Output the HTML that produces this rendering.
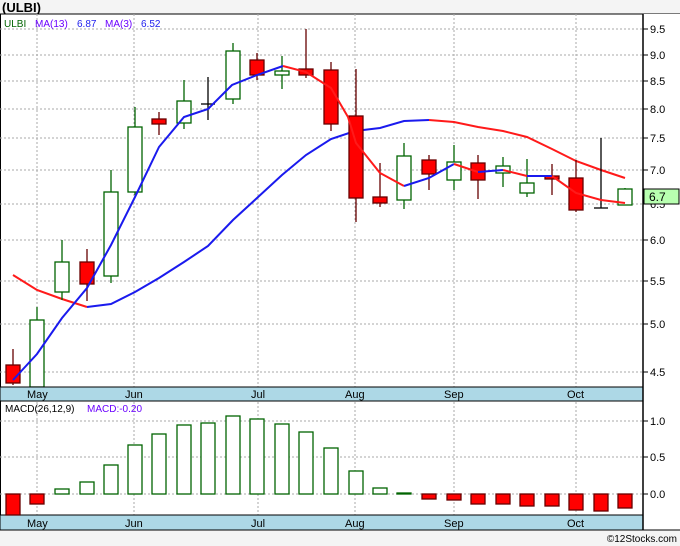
<!DOCTYPE html>
<html><head><meta charset="utf-8"><style>
body{margin:0;background:#f4f4f4;}
svg{display:block;font-family:"Liberation Sans","DejaVu Sans",sans-serif;}
</style></head><body>
<svg width="680" height="546" viewBox="0 0 680 546" xmlns="http://www.w3.org/2000/svg">
<rect x="0" y="0" width="680" height="546" fill="#f4f4f4"/>
<text x="2" y="12" font-size="13" font-weight="bold" fill="#000">(ULBI)</text>
<rect x="0" y="14" width="680" height="516" fill="#fff"/>
<line x1="0" y1="14" x2="680" y2="14" stroke="#000" stroke-width="1"/>
<line x1="0.5" y1="14" x2="0.5" y2="530" stroke="#000"/>
<g stroke="#aaa" stroke-dasharray="2,2" stroke-width="1">
<line x1="0" y1="29" x2="643" y2="29"/><line x1="0" y1="55" x2="643" y2="55"/><line x1="0" y1="81" x2="643" y2="81"/><line x1="0" y1="109" x2="643" y2="109"/><line x1="0" y1="138" x2="643" y2="138"/><line x1="0" y1="170" x2="643" y2="170"/><line x1="0" y1="204" x2="643" y2="204"/><line x1="0" y1="240" x2="643" y2="240"/><line x1="0" y1="281" x2="643" y2="281"/><line x1="0" y1="324" x2="643" y2="324"/><line x1="0" y1="372" x2="643" y2="372"/>
<line x1="0" y1="421" x2="643" y2="421"/><line x1="0" y1="457" x2="643" y2="457"/><line x1="0" y1="494" x2="643" y2="494"/>
<line x1="37" y1="14" x2="37" y2="515"/><line x1="134" y1="14" x2="134" y2="515"/><line x1="258" y1="14" x2="258" y2="515"/><line x1="355" y1="14" x2="355" y2="515"/><line x1="454" y1="14" x2="454" y2="515"/><line x1="576" y1="14" x2="576" y2="515"/>
</g>
<text x="4" y="27" font-size="10" fill="#006400">ULBI</text>
<text x="35" y="27" font-size="10" fill="#6a00ff">MA(13)</text><text x="77" y="27" font-size="10" fill="#2222ee">6.87</text>
<text x="105" y="27" font-size="10" fill="#6a00ff">MA(3)</text><text x="141" y="27" font-size="10" fill="#2222ee">6.52</text>
<!-- slow MA -->
<polyline fill="none" stroke="#ff1a1a" stroke-width="2" points="13,275 37,290 62,299 87,307"/>
<polyline fill="none" stroke="#1a1aee" stroke-width="2" points="87,307 111,304 135,292 159,278 184,262 208,246 233,220 257,198 282,175 306,155 331,139 355,131 380,128 404,121 429,120"/>
<polyline fill="none" stroke="#ff1a1a" stroke-width="2" points="429,120 454,122 478,127 503,131 527,137 552,149 576,161 601,170 625,178"/>
<!-- candles -->
<g stroke-width="1.3">
<g stroke="#600"><line x1="13" y1="349" x2="13" y2="385"/><rect x="6" y="365" width="14" height="18" fill="#ff0000"/></g>
<g stroke="#006400"><line x1="37" y1="307" x2="37" y2="387"/><rect x="30" y="320" width="14" height="67" fill="#fff"/></g>
<g stroke="#006400"><line x1="62" y1="240" x2="62" y2="300"/><rect x="55" y="262" width="14" height="30" fill="#fff"/></g>
<g stroke="#600"><line x1="87" y1="249" x2="87" y2="301"/><rect x="80" y="262" width="14" height="22" fill="#ff0000"/></g>
<g stroke="#006400"><line x1="111" y1="170" x2="111" y2="283"/><rect x="104" y="192" width="14" height="84" fill="#fff"/></g>
<g stroke="#006400"><line x1="135" y1="107" x2="135" y2="195"/><rect x="128" y="127" width="14" height="65" fill="#fff"/></g>
<g stroke="#600"><line x1="159" y1="112" x2="159" y2="135"/><rect x="152" y="119" width="14" height="5" fill="#ff0000"/></g>
<g stroke="#006400"><line x1="184" y1="80" x2="184" y2="129"/><rect x="177" y="101" width="14" height="22" fill="#fff"/></g>
<g stroke="#000"><line x1="208" y1="77" x2="208" y2="120"/><line x1="201" y1="104" x2="215" y2="104"/></g>
<g stroke="#006400"><line x1="233" y1="43" x2="233" y2="104"/><rect x="226" y="51" width="14" height="48" fill="#fff"/></g>
<g stroke="#600"><line x1="257" y1="53" x2="257" y2="80"/><rect x="250" y="60" width="14" height="15" fill="#ff0000"/></g>
<g stroke="#006400"><line x1="282" y1="56" x2="282" y2="89"/><rect x="275" y="71" width="14" height="4" fill="#fff"/></g>
<g stroke="#600"><line x1="306" y1="29" x2="306" y2="78"/><rect x="299" y="69" width="14" height="6" fill="#ff0000"/></g>
<g stroke="#600"><line x1="331" y1="62" x2="331" y2="131"/><rect x="324" y="70" width="14" height="54" fill="#ff0000"/></g>
<g stroke="#600"><line x1="356" y1="69" x2="356" y2="222"/><rect x="349" y="116" width="14" height="82" fill="#ff0000"/></g>
<g stroke="#600"><line x1="380" y1="163" x2="380" y2="207"/><rect x="373" y="197" width="14" height="6" fill="#ff0000"/></g>
<g stroke="#006400"><line x1="404" y1="143" x2="404" y2="209"/><rect x="397" y="156" width="14" height="44" fill="#fff"/></g>
<g stroke="#600"><line x1="429" y1="155" x2="429" y2="190"/><rect x="422" y="160" width="14" height="14" fill="#ff0000"/></g>
<g stroke="#006400"><line x1="454" y1="145" x2="454" y2="190"/><rect x="447" y="162" width="14" height="18" fill="#fff"/></g>
<g stroke="#600"><line x1="478" y1="155" x2="478" y2="199"/><rect x="471" y="163" width="14" height="17" fill="#ff0000"/></g>
<g stroke="#006400"><line x1="503" y1="157" x2="503" y2="187"/><rect x="496" y="166" width="14" height="7" fill="#fff"/></g>
<g stroke="#006400"><line x1="527" y1="159" x2="527" y2="197"/><rect x="520" y="183" width="14" height="10" fill="#fff"/></g>
<g stroke="#600"><line x1="552" y1="164" x2="552" y2="195"/><rect x="545" y="176" width="14" height="3" fill="#ff0000"/></g>
<g stroke="#600"><line x1="576" y1="160" x2="576" y2="212"/><rect x="569" y="178" width="14" height="32" fill="#ff0000"/></g>
<g stroke="#000"><line x1="601" y1="138" x2="601" y2="208"/><line x1="594" y1="208" x2="608" y2="208"/></g>
<g stroke="#006400"><line x1="625" y1="188" x2="625" y2="205"/><rect x="618" y="189" width="14" height="16" fill="#fff"/></g>
</g>
<!-- fast MA -->
<polyline fill="none" stroke="#1a1aee" stroke-width="2" points="13,380 37,354 62,318 87,288 111,245 135,197 159,147 184,117 208,109 232,85 257,75 283,66"/>
<polyline fill="none" stroke="#ff1a1a" stroke-width="2" points="283,66 306,72 331,88 348,117 356,143 380,173 404,186"/>
<polyline fill="none" stroke="#1a1aee" stroke-width="2" points="404,186 429,178 454,164"/>
<polyline fill="none" stroke="#ff1a1a" stroke-width="2" points="454,164 478,172"/>
<polyline fill="none" stroke="#1a1aee" stroke-width="2" points="478,172 503,170"/>
<polyline fill="none" stroke="#ff1a1a" stroke-width="2" points="503,170 527,176"/>
<polyline fill="none" stroke="#1a1aee" stroke-width="2" points="527,176 552,176"/>
<polyline fill="none" stroke="#ff1a1a" stroke-width="2" points="552,176 576,193 601,200 625,203"/>
<!-- axis bands -->
<rect x="0" y="387" width="643" height="14" fill="#add8e6" stroke="#000"/>
<rect x="0" y="515" width="643" height="15" fill="#add8e6" stroke="#000"/>
<g font-size="11" fill="#000">
<text x="27" y="398">May</text><text x="125" y="398">Jun</text><text x="251" y="398">Jul</text><text x="345" y="398">Aug</text><text x="444" y="398">Sep</text><text x="567" y="398">Oct</text>
<text x="27" y="527">May</text><text x="125" y="527">Jun</text><text x="251" y="527">Jul</text><text x="345" y="527">Aug</text><text x="444" y="527">Sep</text><text x="567" y="527">Oct</text>
</g>
<!-- MACD -->
<text x="5" y="412" font-size="10" fill="#000">MACD(26,12,9)</text>
<text x="87" y="412" font-size="10" fill="#6a00ff">MACD:-0.20</text>
<g stroke-width="1.3">
<g stroke="#600" fill="#ff0000">
<rect x="6" y="494" width="14" height="21"/><rect x="30" y="494" width="14" height="10"/>
<rect x="422" y="494" width="14" height="5"/><rect x="447" y="494" width="14" height="6"/><rect x="471" y="494" width="14" height="10"/><rect x="496" y="494" width="14" height="10"/><rect x="520" y="494" width="14" height="12"/><rect x="545" y="494" width="14" height="12"/><rect x="569" y="494" width="14" height="16"/><rect x="594" y="494" width="14" height="17"/><rect x="618" y="494" width="14" height="14"/>
</g>
<g stroke="#006400" fill="#fff">
<rect x="55" y="489" width="14" height="5"/><rect x="80" y="482" width="14" height="12"/><rect x="104" y="465" width="14" height="29"/><rect x="128" y="445" width="14" height="49"/><rect x="152" y="434" width="14" height="60"/><rect x="177" y="425" width="14" height="69"/><rect x="201" y="423" width="14" height="71"/><rect x="226" y="416" width="14" height="78"/><rect x="250" y="419" width="14" height="75"/><rect x="275" y="424" width="14" height="70"/><rect x="299" y="432" width="14" height="62"/><rect x="324" y="448" width="14" height="46"/><rect x="349" y="471" width="14" height="23"/><rect x="373" y="488" width="14" height="6"/><rect x="397" y="493" width="14" height="1"/>
</g>
</g>
<!-- right axis -->
<rect x="643" y="14" width="37" height="516" fill="#fff"/>
<line x1="643" y1="14" x2="643" y2="530" stroke="#000" stroke-width="1.5"/>
<line x1="0" y1="530" x2="680" y2="530" stroke="#000"/>
<g stroke="#000">
<line x1="643" y1="29" x2="648" y2="29"/><line x1="643" y1="55" x2="648" y2="55"/><line x1="643" y1="81" x2="648" y2="81"/><line x1="643" y1="109" x2="648" y2="109"/><line x1="643" y1="138" x2="648" y2="138"/><line x1="643" y1="170" x2="648" y2="170"/><line x1="643" y1="204" x2="648" y2="204"/><line x1="643" y1="240" x2="648" y2="240"/><line x1="643" y1="281" x2="648" y2="281"/><line x1="643" y1="324" x2="648" y2="324"/><line x1="643" y1="372" x2="648" y2="372"/>
<line x1="643" y1="421" x2="648" y2="421"/><line x1="643" y1="457" x2="648" y2="457"/><line x1="643" y1="494" x2="648" y2="494"/>
</g>
<g font-size="11" fill="#000">
<text x="650" y="33">9.5</text><text x="650" y="59">9.0</text><text x="650" y="85">8.5</text><text x="650" y="113">8.0</text><text x="650" y="142">7.5</text><text x="650" y="174">7.0</text><text x="650" y="208">6.5</text><text x="650" y="244">6.0</text><text x="650" y="285">5.5</text><text x="650" y="328">5.0</text><text x="650" y="376">4.5</text>
<text x="650" y="425">1.0</text><text x="650" y="461">0.5</text><text x="650" y="498">0.0</text>
</g>
<rect x="644" y="189" width="35" height="15" fill="#b8ffb0" stroke="#000"/>
<text x="649" y="201" font-size="12" fill="#000">6.7</text>
<text x="677" y="542" font-size="10" fill="#000" text-anchor="end">©12Stocks.com</text>
</svg>
</body></html>
